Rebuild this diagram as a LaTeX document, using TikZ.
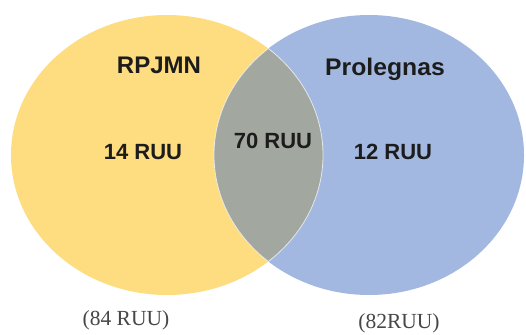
\documentclass[tikz,border=0pt]{standalone}
\usepackage{fontspec}
\setmainfont{Liberation Sans}
\newfontfamily\lblserif{Liberation Serif}
\definecolor{venyellow}{HTML}{FEDC80}
\definecolor{venblue}{HTML}{A2B8E0}
\definecolor{vengray}{HTML}{A2A89F}
\definecolor{vtext}{HTML}{1C1C1C}
\definecolor{vsub}{HTML}{474747}
\begin{document}
\begin{tikzpicture}[x=1pt,y=-1pt,
  setname/.style={font=\fontsize{24}{27}\selectfont\bfseries, text=vtext, inner sep=0pt},
  count/.style={font=\fontsize{22}{25}\selectfont\bfseries, text=vtext, inner sep=0pt},
  total/.style={font=\lblserif\fontsize{21.5}{24}\selectfont, text=vsub, inner sep=0pt}]
\useasboundingbox (0,0) rectangle (526,334);
\fill[white] (0,0) rectangle (526,334);
\fill[venyellow] (167,155) ellipse [x radius=156, y radius=140];
\fill[venblue] (369,155) ellipse [x radius=155, y radius=140];
\begin{scope}
  \clip (167,155) ellipse [x radius=156, y radius=140];
  \fill[vengray] (369,155) ellipse [x radius=155, y radius=140];
  \draw[white, line width=0.8pt, opacity=0.7] (369,155) ellipse [x radius=155, y radius=140];
\end{scope}
\begin{scope}
  \clip (369,155) ellipse [x radius=155, y radius=140];
  \draw[white, line width=0.8pt, opacity=0.7] (167,155) ellipse [x radius=156, y radius=140];
\end{scope}
\node[setname] (rpjmn) at (159,65) {RPJMN};
\node[setname, xscale=1.03] (prolegnas) at (385,69) {Prolegnas};
\node[count] (left) at (143,152) {14 RUU};
\node[count] (mid) at (273,141) {70 RUU};
\node[count] (right) at (393,152) {12 RUU};
\node[total] (ltot) at (126,320) {(84 RUU)};
\node[total] (rtot) at (399,323) {(82RUU)};
\end{tikzpicture}
\end{document}
